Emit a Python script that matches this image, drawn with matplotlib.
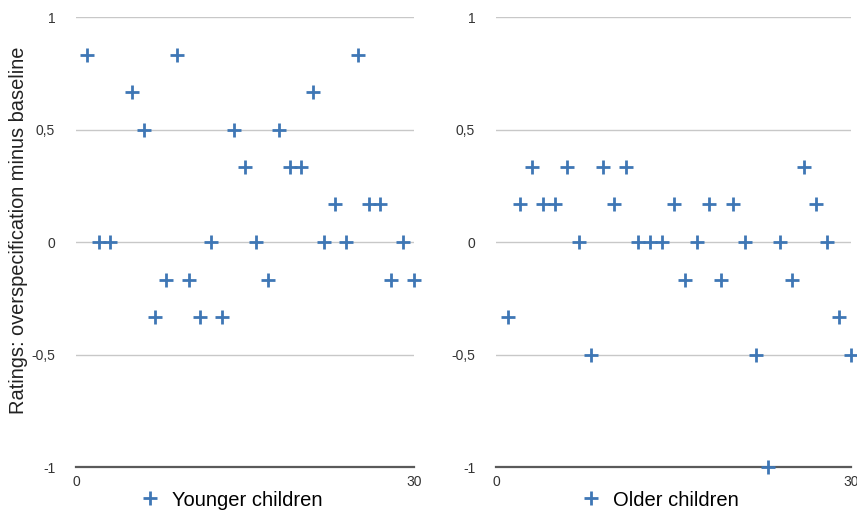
import numpy as np
import matplotlib
matplotlib.use("Agg")
import matplotlib.pyplot as plt

plt.rcParams['font.family'] = ['Liberation Sans', 'DejaVu Sans']

# younger children (participant 4 has no value)
young_x = [1, 2, 3, 5, 6, 7, 8, 9, 10, 11, 12, 13, 14, 15, 16,
           17, 18, 19, 20, 21, 22, 23, 24, 25, 26, 27, 28, 29, 30]
young_y = [0.833, 0, 0, 0.667, 0.5, -0.333, -0.167, 0.833, -0.167, -0.333,
           0, -0.333, 0.5, 0.333, 0, -0.167, 0.5, 0.333, 0.333, 0.667,
           0, 0.167, 0, 0.833, 0.167, 0.167, -0.167, 0, -0.167]

# older children
old_x = list(range(1, 31))
old_y = [-0.333, 0.167, 0.333, 0.167, 0.167, 0.333, 0, -0.5, 0.333, 0.167,
         0.333, 0, 0, 0, 0.167, -0.167, 0, 0.167, -0.167, 0.167,
         0, -0.5, -1, 0, -0.167, 0.333, 0.167, 0, -0.333, -0.5]

y_ticks = [-1, -0.5, 0, 0.5, 1]
y_labels = ["-1", "-0,5", "0", "0,5", "1"]
x_ticks = [0, 30]

color = "#3f77b5"

fig = plt.figure(figsize=(8.57, 5.14), dpi=100)
ax1 = fig.add_axes([0.0887, 0.0914, 0.3944, 0.8755])
ax2 = fig.add_axes([0.5788, 0.0914, 0.4142, 0.8755])


def style_axis(ax, x, y, label, legend_x):
    ax.plot(x, y, linestyle="none", marker="+", markersize=9.5, markeredgewidth=2,
            color=color, clip_on=False, label=label, zorder=3)
    ax.set_xlim(0, 30)
    ax.set_ylim(-1, 1)
    ax.set_yticks(y_ticks)
    ax.set_yticklabels(y_labels)
    ax.set_xticks(x_ticks)
    ax.tick_params(axis="both", length=0, labelsize=10, colors="#333333")
    ax.tick_params(axis="y", pad=15)
    ax.tick_params(axis="x", pad=6)
    for side in ["top", "right", "left"]:
        ax.spines[side].set_visible(False)
    ax.spines["bottom"].set_color("#5a5a5a")
    ax.spines["bottom"].set_linewidth(1.6)
    ax.grid(axis="y", color="#c8c8c8", linewidth=1)
    ax.set_axisbelow(True)
    # legend below the panel, placed in figure pixels
    ax.legend(loc="center", bbox_to_anchor=(legend_x / 857, 1 - 500 / 514),
              bbox_transform=fig.transFigure, frameon=False, fontsize=14.5,
              handletextpad=0.5, handlelength=1.2, borderpad=0)


style_axis(ax1, young_x, young_y, "Younger children", 230)
style_axis(ax2, old_x, old_y, "Older children", 659)

fig.text(19 / 857, 1 - 230 / 514, "Ratings: overspecification minus baseline", rotation=90,
         va="center", ha="center", fontsize=14.4, color="#222222")

plt.savefig("out.png", dpi=100)
